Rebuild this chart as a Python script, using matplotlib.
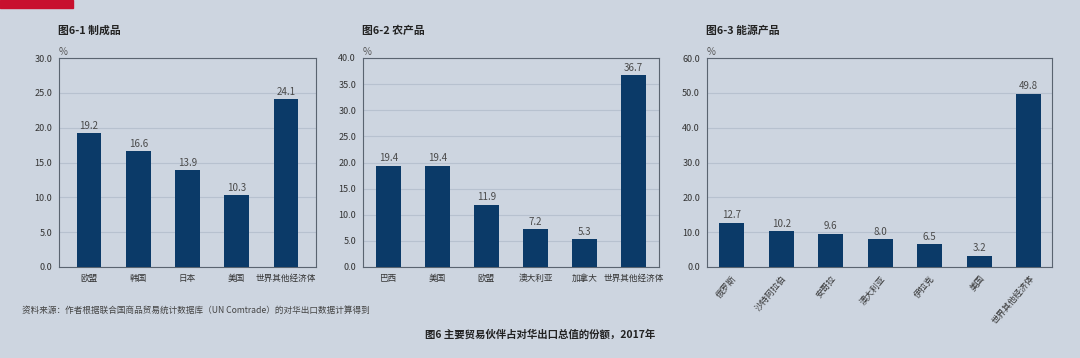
import numpy as np
import matplotlib
matplotlib.use('Agg')
import matplotlib.pyplot as plt
from matplotlib.patches import Rectangle

plt.rcParams['font.family'] = ['Noto Sans CJK SC', 'DejaVu Sans']

# 图6-1 制成品
manu_labels = ['欧盟', '韩国', '日本', '美国', '世界其他经济体']
manu_values = [19.2, 16.6, 13.9, 10.3, 24.1]
# 图6-2 农产品
agri_labels = ['巴西', '美国', '欧盟', '澳大利亚', '加拿大', '世界其他经济体']
agri_values = [19.4, 19.4, 11.9, 7.2, 5.3, 36.7]
# 图6-3 能源产品
energy_labels = ['俄罗斯', '沙特阿拉伯', '安哥拉', '澳大利亚', '伊拉克', '美国', '世界其他经济体']
energy_values = [12.7, 10.2, 9.6, 8.0, 6.5, 3.2, 49.8]

bg = '#cdd5e0'
bar_col = '#0b3a68'
txt = '#333333'

fig = plt.figure(figsize=(10.8, 3.58), dpi=100, facecolor=bg)
fig.patches.append(Rectangle((0, 1 - 8/358), 73/1080, 8/358, transform=fig.transFigure,
                             color='#c8102e', zorder=5))

panels = [
    ('图6-1 制成品', manu_labels, manu_values, 30, 5, [59, 316], (-0.61, 4.61), 0),
    ('图6-2 农产品', agri_labels, agri_values, 40, 5, [363, 659], (-0.52, 5.52), 0),
    ('图6-3 能源产品', energy_labels, energy_values, 60, 10, [707, 1052], (-0.5, 6.47), 50),
]

top, bot = 58, 267
for title, labels, values, ymax, step, (x0, x1), xl, rot in panels:
    ax = fig.add_axes([x0/1080, 1 - bot/358, (x1 - x0)/1080, (bot - top)/358])
    ax.set_facecolor(bg)
    x = np.arange(len(values))
    ax.bar(x, values, width=0.5, color=bar_col, zorder=3)
    for xi, v in zip(x, values):
        ax.text(xi, v + ymax*0.012, f'{v:.1f}', ha='center', va='bottom', fontsize=7, color='#4a4a4a')
    ax.set_xlim(*xl)
    ax.set_ylim(0, ymax)
    ticks = np.arange(0, ymax + 0.1, step)
    ax.set_yticks(ticks)
    ax.set_yticklabels([f'{t:.1f}' for t in ticks], fontsize=6.5, color=txt)
    ax.yaxis.grid(True, color='#b7c1cf', lw=0.8, zorder=0)
    ax.set_xticks(x)
    if rot:
        ax.set_xticklabels(labels, fontsize=6.2, color=txt, rotation=rot, ha='right', rotation_mode='anchor')
    else:
        ax.set_xticklabels(labels, fontsize=6.2, color=txt)
    ax.tick_params(length=0, pad=5)
    for s in ax.spines.values():
        s.set_color('#5a6470')
        s.set_linewidth(0.8)
    ax.text(0.0, 1.005, '%', transform=ax.transAxes, fontsize=7, color='#555555', ha='left', va='bottom')
    fig.text((x0 - 1)/1080, 1 - 31/358, title, fontsize=7.8, fontweight='bold', color='#222222', va='center')

fig.text(22/1080, 1 - 310/358, '资料来源：作者根据联合国商品贸易统计数据库（UN Comtrade）的对华出口数据计算得到',
         fontsize=6.2, color='#444444', va='center')
fig.text(540/1080, 1 - 335/358, '图6 主要贸易伙伴占对华出口总值的份额，2017年',
         fontsize=7.5, fontweight='bold', color='#222222', ha='center', va='center')

fig.savefig('out.png', dpi=100, facecolor=bg)
